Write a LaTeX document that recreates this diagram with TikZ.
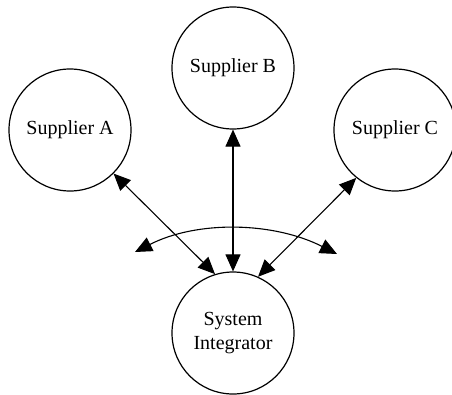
\documentclass[tikz,border=0pt]{standalone}
\usepackage{fontspec}
\setmainfont{Liberation Serif}
\usetikzlibrary{arrows.meta}
\begin{document}
\begin{tikzpicture}[x=1pt,y=-1pt,
  party/.style={draw,circle,line width=1.2pt,minimum size=122pt,inner sep=0pt,
    align=center,font=\fontsize{20}{24}\selectfont},
  link/.style={line width=1.1pt,{Triangle[length=17pt,width=15pt]}-{Triangle[length=17pt,width=15pt]}}]
\useasboundingbox (0,0) rectangle (452,394);
\node[party] (A) at (70,130) {Supplier A};
\node[party] (B) at (233,68) {Supplier B};
\node[party] (C) at (395,130) {Supplier C};
\node[party] (S) at (233,333) {System\\Integrator};
\coordinate (L) at (135,252);
\coordinate (R) at (337,254);
\draw[link] (A.-45) -- (S.107);
\draw[link] (B.south) -- (S.north);
\draw[link] (C.231) -- (S.66);
\draw[link] (L) .. controls (198,220) and (274,222) .. (R);
\end{tikzpicture}
\end{document}
